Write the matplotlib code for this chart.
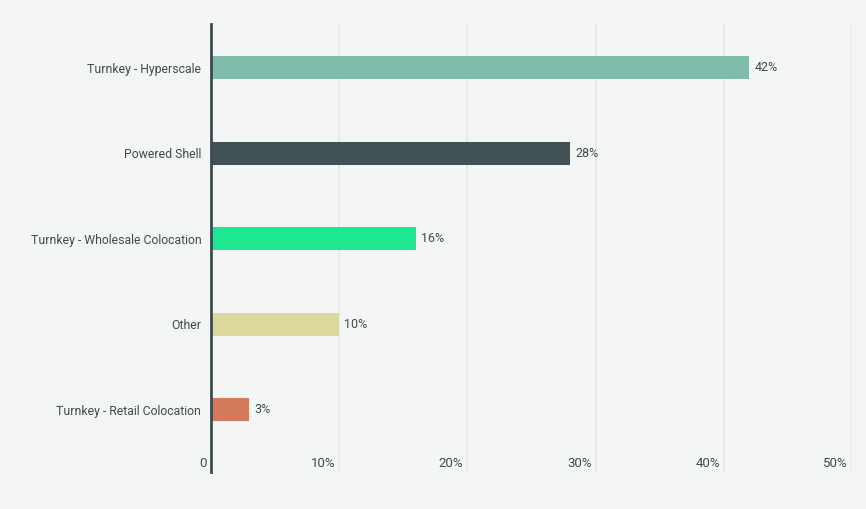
import matplotlib.pyplot as plt
import numpy as np

# data
categories = ["Turnkey - Hyperscale", "Powered Shell", "Turnkey - Wholesale Colocation",
              "Other", "Turnkey - Retail Colocation"]
values = [42.0, 28.0, 16.0, 10.0, 3.0]
labels = ["42%", "28%", "16%", "10%", "3%"]
colors = ["#80bcab", "#435257", "#1de891", "#dcd99c", "#d4795a"]
xticks = [0, 10, 20, 30, 40, 50]
xtick_labels = ["0", "10%", "20%", "30%", "40%", "50%"]

bg = "#f4f6f5"
text_col = "#3e4b50"

plt.rcParams['font.family'] = ['Roboto', 'DejaVu Sans']

fig = plt.figure(figsize=(8.66, 5.09), dpi=100, facecolor=bg)
ax = fig.add_axes([211 / 866, 1 - 472 / 509, (852 - 211) / 866, (472 - 24) / 509])
ax.set_facecolor(bg)

y = np.arange(len(categories))
ax.barh(y, values, height=0.27, color=colors, zorder=3)

# value labels
for yi, v, lab in zip(y, values, labels):
    ax.text(v + 0.4, yi, lab, va='center', ha='left', fontsize=9, color=text_col)

ax.set_xlim(0, 50)
ax.set_ylim(4.73, -0.51)

ax.set_yticks(y)
ax.set_yticklabels(categories, fontsize=8.8, color=text_col)
ax.tick_params(axis='y', length=0, pad=7)

# x grid and tick labels inside plot, left of gridlines
ax.set_xticks(xticks)
ax.set_xticklabels([])
ax.tick_params(axis='x', length=0)
for t, lab in zip(xticks, xtick_labels):
    if t > 0:
        ax.axvline(t, color="#e6e9e8", lw=1.2, zorder=1)
    ax.text(t - 0.3, 4.71, lab, ha='right', va='bottom', fontsize=9.5, color=text_col)

for s in ['top', 'right', 'bottom']:
    ax.spines[s].set_visible(False)
ax.spines['left'].set_color("#3c4b4f")
ax.spines['left'].set_linewidth(2)
ax.spines['left'].set_zorder(4)

fig.savefig("out.png", dpi=100, facecolor=bg)
